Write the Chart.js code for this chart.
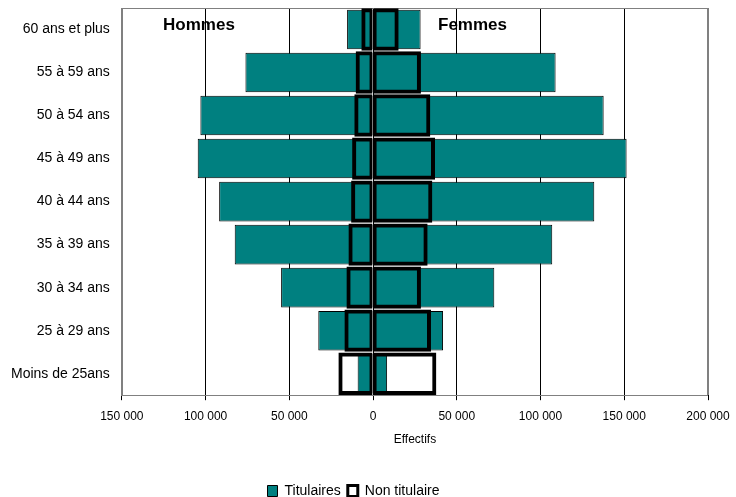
<!DOCTYPE html>
<html>
<head>
<meta charset="utf-8">
<script src="https://cdn.jsdelivr.net/npm/chart.js@4/dist/chart.umd.min.js"></script>
<style>
html,body{margin:0;padding:0;background:#fff;}
#wrap{width:736px;height:497px;position:relative;}
</style>
</head>
<body>
<div id="wrap"><canvas id="c" width="736" height="497"></canvas></div>
<script>
const categories = ["60 ans et plus","55 à 59 ans","50 à 54 ans","45 à 49 ans","40 à 44 ans","35 à 39 ans","30 à 34 ans","25 à 29 ans","Moins de 25ans"];
const titulairesHommes = [15500, 76200, 103100, 104700, 91900, 82600, 54900, 32700, 9200];
const titulairesFemmes = [28400, 109000, 137700, 151400, 132100, 107000, 72400, 41800, 8400];
const nonTitulaireHommes = [7000, 10400, 11200, 12500, 13100, 14700, 15900, 17100, 20700];
const nonTitulaireFemmes = [15300, 28600, 34200, 37000, 35400, 32600, 28600, 34600, 37800];
const xTicks = [-150000, -100000, -50000, 0, 50000, 100000, 150000, 200000];
const seriesNames = ["Titulaires", "Non titulaire"];
const sideLabels = ["Hommes", "Femmes"];

const TEAL = "#008080";
const SANS = '"Liberation Sans", Arial, sans-serif';

function fmt(v){ return String(Math.abs(v)).replace(/\B(?=(\d{3})+(?!\d))/g, " "); }

const neg = a => a.map(v => -v);

const titStyle = {backgroundColor: TEAL, borderColor: "#000", borderWidth: 1, borderSkipped: false,
  grouped: false, barPercentage: 0.92, categoryPercentage: 1, order: 2};
const ntStyle = {backgroundColor: "rgba(0,0,0,0)", borderColor: "#000", borderSkipped: false,
  grouped: false, barPercentage: 0.985, categoryPercentage: 1, order: 1};

const framePlugin = {
  id: "frame",
  beforeDatasetsDraw(chart){
    const {ctx, chartArea: a} = chart;
    ctx.save();
    ctx.strokeStyle = "#808080";
    ctx.lineWidth = 1;
    ctx.strokeRect(Math.round(a.left)+0.5, Math.round(a.top)+0.5, Math.round(a.right-a.left)-1, Math.round(a.bottom-a.top));
    ctx.restore();
  },
  afterDatasetsDraw(chart){
    const {ctx, chartArea: a, scales} = chart;
    ctx.save();
    ctx.fillStyle = "#000";
    ctx.font = "bold 17px " + SANS;
    ctx.textBaseline = "alphabetic";
    ctx.textAlign = "left";
    ctx.fillText(sideLabels[0], scales.x.getPixelForValue(-125400), a.top + 22);
    ctx.fillText(sideLabels[1], scales.x.getPixelForValue(38800), a.top + 22);
    ctx.restore();
  }
};

new Chart(document.getElementById("c"), {
  type: "bar",
  data: {
    labels: categories,
    datasets: [
      Object.assign({label: seriesNames[0], data: neg(titulairesHommes)}, titStyle),
      Object.assign({label: seriesNames[0] + " F", data: titulairesFemmes}, titStyle),
      Object.assign({label: seriesNames[1], data: neg(nonTitulaireHommes),
        borderWidth: {top: 4, bottom: 4, left: 4, right: 3}}, ntStyle),
      Object.assign({label: seriesNames[1] + " F", data: nonTitulaireFemmes,
        borderWidth: {top: 4, bottom: 4, left: 3, right: 4}}, ntStyle)
    ]
  },
  options: {
    indexAxis: "y",
    responsive: false,
    animation: false,
    layout: {padding: {top: 8, left: -1, right: 28, bottom: -11}},
    scales: {
      x: {
        type: "linear",
        min: -150000, max: 200000,
        afterBuildTicks(scale){ scale.ticks = xTicks.map(v => ({value: v})); },
        afterFit(scale){ scale.paddingLeft = 0; scale.paddingRight = 0; },
        ticks: {callback: v => fmt(v), color: "#000", font: {family: SANS, size: 12}, padding: 9, maxRotation: 0, autoSkip: false},
        grid: {
          color: ctx => (ctx.tick && (ctx.tick.value === -150000 || ctx.tick.value === 200000)) ? "#808080" : "#000",
          lineWidth: 1, tickLength: 5, tickColor: "#000", drawOnChartArea: true
        },
        border: {display: true, color: "#000"},
        title: {display: true, text: "Effectifs", color: "#000", font: {family: SANS, size: 12}, padding: {top: 0, bottom: 30}}
      },
      y: {
        type: "category",
        grid: {display: false, drawTicks: false},
        border: {display: true, color: "#808080"},
        ticks: {color: "#000", font: {family: SANS, size: 14}, padding: 12},
        afterFit(scale){ scale.paddingTop = 0; scale.paddingBottom = 0; }
      }
    },
    plugins: {
      tooltip: {enabled: false},
      legend: {
        position: "bottom",
        labels: {
          font: {family: SANS, size: 14}, color: "#000",
          boxWidth: 10, boxHeight: 11, padding: 7,
          generateLabels: () => [
            {text: seriesNames[0], fillStyle: TEAL, strokeStyle: "#000", lineWidth: 1, hidden: false, datasetIndex: 0, fontColor: "#000"},
            {text: seriesNames[1], fillStyle: "#fff", strokeStyle: "#000", lineWidth: 3, hidden: false, datasetIndex: 2, fontColor: "#000"}
          ]
        },
        onClick: () => {}
      }
    }
  },
  plugins: [framePlugin]
});
</script>
</body>
</html>
